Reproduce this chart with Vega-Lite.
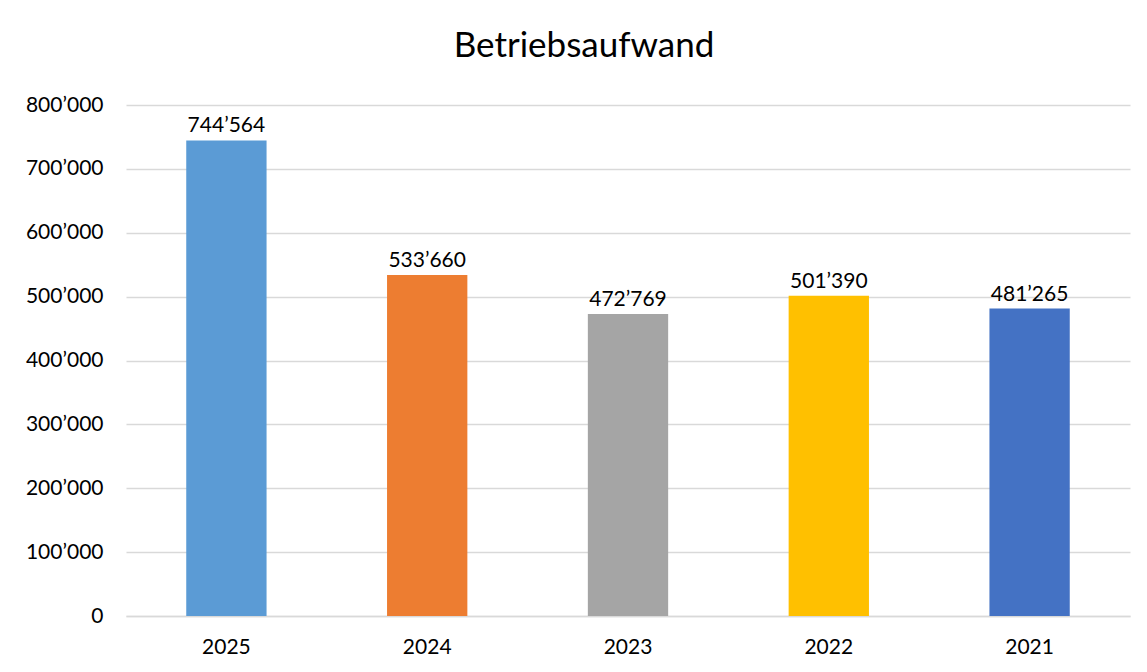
{
  "$schema": "https://vega.github.io/schema/vega-lite/v6.json",
  "width": 1004,
  "height": 511,
  "autosize": {"type": "none"},
  "padding": {"left": 126, "top": 105, "right": 17, "bottom": 56},
  "background": "white",
  "config": {
    "locale": {"number": {"decimal": ".", "thousands": "’", "grouping": [3], "currency": ["", ""]}},
    "view": {"stroke": null},
    "font": "Lato"
  },
  "title": {
    "text": "Betriebsaufwand",
    "fontSize": 35,
    "font": "Lato",
    "fontWeight": "normal",
    "color": "#000000",
    "anchor": "middle",
    "dx": -44,
    "offset": 30
  },
  "data": {
    "values": [
      {"year": "2025", "value": 744564},
      {"year": "2024", "value": 533660},
      {"year": "2023", "value": 472769},
      {"year": "2022", "value": 501390},
      {"year": "2021", "value": 481265}
    ]
  },
  "encoding": {
    "x": {
      "field": "year",
      "type": "nominal",
      "sort": null,
      "scale": {"paddingInner": 0.6, "paddingOuter": 0.3},
      "axis": {
        "title": null,
        "labelAngle": 0,
        "labelFontSize": 21,
        "labelColor": "#000000",
        "labelPadding": 20,
        "ticks": false,
        "domainColor": "#D9D9D9",
        "domainWidth": 1.5
      }
    },
    "y": {
      "field": "value",
      "type": "quantitative",
      "scale": {"domain": [0, 800000], "nice": false},
      "axis": {
        "title": null,
        "values": [0, 100000, 200000, 300000, 400000, 500000, 600000, 700000, 800000],
        "format": ",.0f",
        "labelFontSize": 21,
        "labelColor": "#000000",
        "labelPadding": 23,
        "ticks": false,
        "domain": false,
        "gridColor": "#D9D9D9",
        "gridWidth": 1.5
      }
    }
  },
  "layer": [
    {
      "mark": {"type": "bar"},
      "encoding": {
        "color": {
          "field": "year",
          "type": "nominal",
          "sort": null,
          "scale": {"domain": ["2025", "2024", "2023", "2022", "2021"], "range": ["#5B9BD5", "#ED7D31", "#A5A5A5", "#FFC000", "#4472C4"]},
          "legend": null
        }
      }
    },
    {
      "mark": {"type": "text", "baseline": "bottom", "dy": -4, "fontSize": 21, "color": "#000000"},
      "encoding": {
        "text": {"field": "value", "type": "quantitative", "format": ",.0f"}
      }
    }
  ]
}
